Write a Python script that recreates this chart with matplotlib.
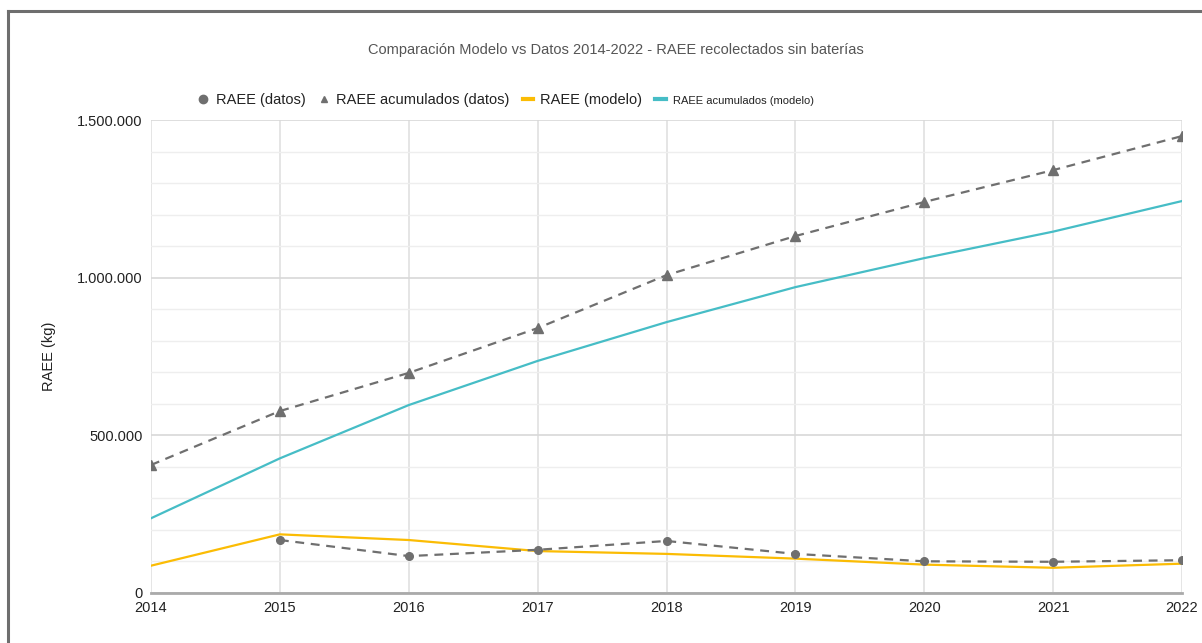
import numpy as np
import matplotlib
matplotlib.use("Agg")
import matplotlib.pyplot as plt
from matplotlib.lines import Line2D
from matplotlib.ticker import FuncFormatter, MultipleLocator

plt.rcParams['font.family'] = ['Liberation Sans', 'DejaVu Sans']

years = [2014, 2015, 2016, 2017, 2018, 2019, 2020, 2021, 2022]
raee_datos = [np.nan, 168000, 117000, 137000, 165000, 124000, 100500, 99000, 104000]
raee_acum_datos = [406000, 577000, 698000, 840000, 1008000, 1132000, 1240000, 1341000, 1449000]
raee_modelo = [86600, 186000, 168000, 133000, 124000, 109000, 90000, 80000, 93000]
raee_acum_modelo = [237000, 427000, 596000, 736000, 859000, 970000, 1062000, 1146000, 1243000]

gray = '#6f6f6f'
yellow = '#fbbc04'
teal = '#46bdc6'

fig = plt.figure(figsize=(12.02, 6.43), dpi=100)
ax = fig.add_axes([151/1202, 50/643, 1031/1202, 473/643])

ax.plot(years, raee_datos, color=gray, ls=(0, (4, 3)), lw=1.6,
        marker='o', ms=5.5, zorder=4)
ax.plot(years, raee_acum_datos, color=gray, ls=(0, (4, 3)), lw=1.6,
        marker='^', ms=6.5, zorder=4)
ax.plot(years, raee_modelo, color=yellow, lw=1.6, zorder=3)
ax.plot(years, raee_acum_modelo, color=teal, lw=1.6, zorder=3)

ax.set_xlim(2014, 2022)
ax.set_ylim(0, 1500000)
ax.set_xticks(years)
ax.yaxis.set_major_locator(MultipleLocator(500000))
ax.yaxis.set_minor_locator(MultipleLocator(100000))
ax.yaxis.set_major_formatter(FuncFormatter(lambda v, p: f"{int(v):,}".replace(',', '.')))
ax.grid(True, which='major', axis='y', color='#d8d8d8', lw=1.2, zorder=0)
ax.grid(True, which='minor', axis='y', color='#eeeeee', lw=1, zorder=0)
ax.grid(True, which='major', axis='x', color='#e0e0e0', lw=1.2, zorder=0)
ax.tick_params(length=0, labelsize=10.5, colors='#222222', pad=6)
ax.tick_params(axis='x', pad=6)
ax.tick_params(which='minor', length=0)
for s in ['top', 'left', 'right']:
    ax.spines[s].set_visible(False)
ax.spines['bottom'].set_color('#aaaaaa')
ax.spines['bottom'].set_linewidth(2)
ax.set_ylabel('RAEE (kg)', fontsize=10.5, color='#222222')
ax.yaxis.set_label_coords(-0.092, 0.5)

fig.text(0.512, 1 - 50/643, 'Comparación Modelo vs Datos 2014-2022 - RAEE recolectados sin baterías',
         ha='center', va='center', fontsize=10.5, color='#555555')

handles = [
    Line2D([], [], color=gray, marker='o', ls='none', ms=6),
    Line2D([], [], color=gray, marker='^', ls='none', ms=5),
    Line2D([], [], color=yellow, lw=3),
    Line2D([], [], color=teal, lw=3),
]
labels = ['RAEE (datos)', 'RAEE acumulados (datos)', 'RAEE (modelo)', 'RAEE acumulados (modelo)']
leg = fig.legend(handles, labels, loc='center', bbox_to_anchor=(0.421, 1 - 100/643),
                 ncol=4, frameon=False, fontsize=10.5, handlelength=0.7,
                 handletextpad=0.5, columnspacing=0.9)
leg.get_texts()[3].set_fontsize(8)
for t in leg.get_texts():
    t.set_color('#222222')

# outer frame (left and top edges)
fig.add_artist(Line2D([8/1202, 8/1202], [0, 1 - 11/643], color='#6e6e6e', lw=2.2,
                      transform=fig.transFigure))
fig.add_artist(Line2D([8/1202, 1], [1 - 11/643, 1 - 11/643], color='#6e6e6e', lw=2.2,
                      transform=fig.transFigure))

fig.savefig('out.png', dpi=100)
